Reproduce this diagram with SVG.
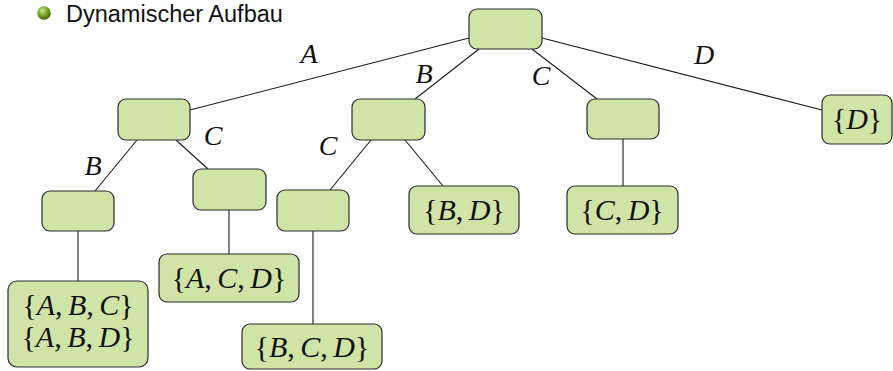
<svg xmlns="http://www.w3.org/2000/svg" width="893" height="371" viewBox="0 0 893 371">
<style>
.n{fill:#d0e4a7;stroke:#2b2b2b;stroke-width:1.2}
.e{stroke:#1a1a1a;stroke-width:1.1;fill:none}
.t{font-family:"Liberation Serif","DejaVu Serif",serif;font-size:30px;fill:#111;text-anchor:middle}
.l{font-family:"Liberation Serif","DejaVu Serif",serif;font-size:28px;font-style:italic;fill:#111;text-anchor:middle}
.i{font-style:italic}
.title{font-family:"Liberation Sans",Arial,sans-serif;font-size:23.5px;fill:#111}
</style>
<defs>
<radialGradient id="ball" cx="0.38" cy="0.32" r="0.7">
<stop offset="0" stop-color="#cdeb8a"/>
<stop offset="0.5" stop-color="#78a82a"/>
<stop offset="1" stop-color="#3d650c"/>
</radialGradient>
</defs>
<g id="title">
<circle cx="44" cy="13" r="6.8" fill="url(#ball)"/>
<text class="title" x="66" y="21.5">Dynamischer Aufbau</text>
</g>
<g id="connectors">
<line class="e" x1="469" y1="38" x2="190" y2="110"/>
<line class="e" x1="479" y1="49" x2="415" y2="99"/>
<line class="e" x1="532" y1="49" x2="597" y2="99"/>
<line class="e" x1="542" y1="38" x2="822" y2="110"/>
<line class="e" x1="137" y1="140" x2="95" y2="191"/>
<line class="e" x1="176" y1="140" x2="208" y2="169"/>
<line class="e" x1="371" y1="140" x2="330" y2="190"/>
<line class="e" x1="405" y1="140" x2="443" y2="186"/>
<line class="e" x1="623" y1="139" x2="623" y2="186"/>
<line class="e" x1="78" y1="231" x2="78" y2="281"/>
<line class="e" x1="229" y1="210" x2="229" y2="254"/>
<line class="e" x1="313" y1="231" x2="313" y2="324"/>
<text class="l" x="309" y="63">A</text>
<text class="l" x="424" y="83">B</text>
<text class="l" x="541" y="85">C</text>
<text class="l" x="704" y="64">D</text>
<text class="l" x="93" y="175">B</text>
<text class="l" x="213" y="145">C</text>
<text class="l" x="328" y="155">C</text>
</g>
<g id="root"><rect class="n" x="469" y="9" width="73" height="40" rx="8"/></g>
<g id="nA"><rect class="n" x="118" y="99" width="72" height="41" rx="8"/></g>
<g id="nB"><rect class="n" x="352" y="99" width="73" height="41" rx="8"/></g>
<g id="nC"><rect class="n" x="587" y="99" width="72" height="40" rx="8"/></g>
<g id="nD"><rect class="n" x="822" y="95" width="70" height="49" rx="8"/>
<text class="t" x="857" y="129">{<tspan class="i">D</tspan>}</text></g>
<g id="nAB"><rect class="n" x="42" y="191" width="72" height="40" rx="8"/></g>
<g id="nAC"><rect class="n" x="193" y="169" width="73" height="41" rx="8"/></g>
<g id="nBC"><rect class="n" x="277" y="190" width="72" height="41" rx="8"/></g>
<g id="nBD"><rect class="n" x="409" y="186" width="110" height="48" rx="8"/>
<text class="t" x="464" y="220">{<tspan class="i">B</tspan>,<tspan class="i" dx="5.5">D</tspan>}</text></g>
<g id="nCD"><rect class="n" x="567" y="186" width="111" height="48" rx="8"/>
<text class="t" x="622" y="220">{<tspan class="i">C</tspan>,<tspan class="i" dx="5.5">D</tspan>}</text></g>
<g id="nABCD"><rect class="n" x="8" y="281" width="140" height="86" rx="9"/>
<text class="t" x="78" y="315">{<tspan class="i">A</tspan>,<tspan class="i" dx="5.5">B</tspan>,<tspan class="i" dx="5.5">C</tspan>}</text>
<text class="t" x="78" y="347">{<tspan class="i">A</tspan>,<tspan class="i" dx="5.5">B</tspan>,<tspan class="i" dx="5.5">D</tspan>}</text></g>
<g id="nACD"><rect class="n" x="159" y="254" width="140" height="48" rx="8"/>
<text class="t" x="229" y="288">{<tspan class="i">A</tspan>,<tspan class="i" dx="5.5">C</tspan>,<tspan class="i" dx="5.5">D</tspan>}</text></g>
<g id="nBCD"><rect class="n" x="242" y="324" width="140" height="45" rx="8"/>
<text class="t" x="312" y="357">{<tspan class="i">B</tspan>,<tspan class="i" dx="5.5">C</tspan>,<tspan class="i" dx="5.5">D</tspan>}</text></g>
</svg>
